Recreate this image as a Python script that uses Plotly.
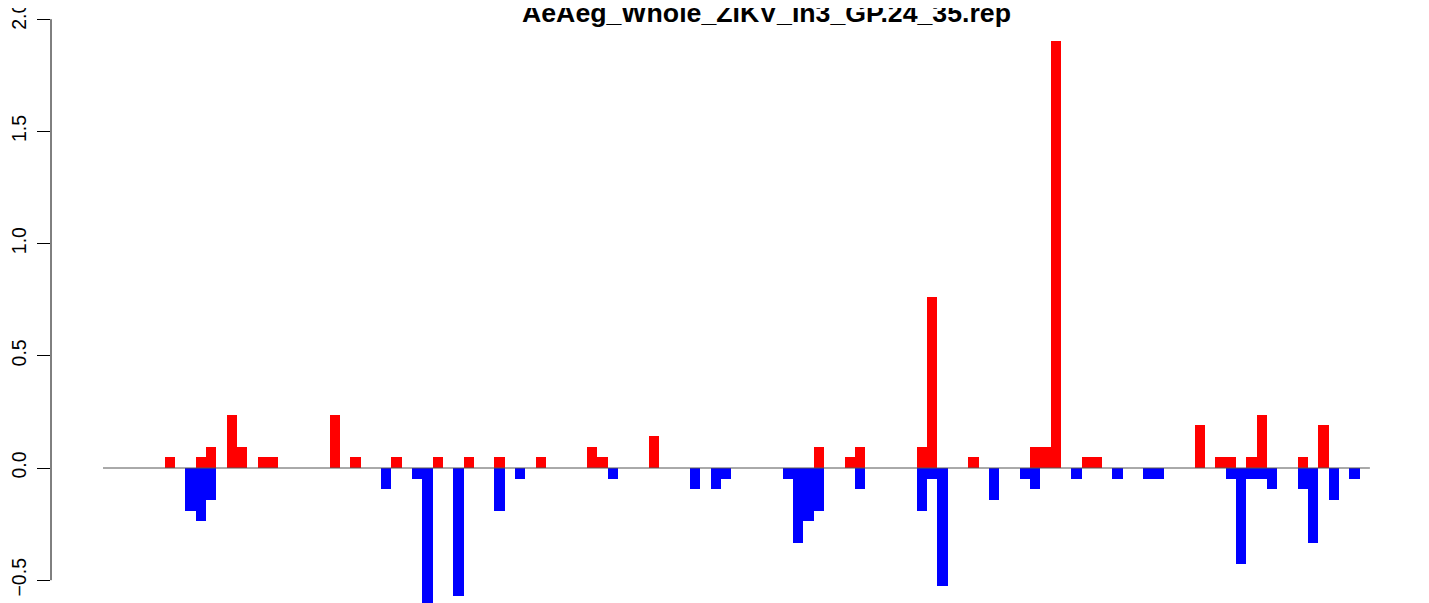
import plotly.graph_objects as go

# bar positions (0-based slot) and heights
red_idx = [6, 9, 10, 12, 13, 15, 16, 22, 24, 28, 32, 35, 38, 42, 47, 48, 53,
           69, 72, 73, 79, 80, 84, 90, 91, 92, 95, 96, 106, 108, 109, 111, 112,
           116, 118]
red_vals = [0.048, 0.048, 0.095, 0.238, 0.095, 0.048, 0.048, 0.238, 0.048,
            0.048, 0.048, 0.048, 0.048, 0.048, 0.095, 0.048, 0.143,
            0.095, 0.048, 0.095, 0.095, 0.762, 0.048, 0.095, 0.095, 1.905,
            0.048, 0.048, 0.190, 0.048, 0.048, 0.048, 0.238, 0.048, 0.190]

blue_idx = [8, 9, 10, 27, 30, 31, 34, 38, 40, 49, 57, 59, 60, 66, 67, 68, 69,
            73, 79, 80, 81, 86, 89, 90, 94, 98, 101, 102, 109, 110, 111, 112,
            113, 116, 117, 119, 121]
blue_vals = [-0.190, -0.238, -0.143, -0.095, -0.048, -0.619, -0.571, -0.190,
             -0.048, -0.048, -0.095, -0.095, -0.048, -0.048, -0.333, -0.238,
             -0.190, -0.095, -0.190, -0.048, -0.524, -0.143, -0.048, -0.095,
             -0.048, -0.048, -0.048, -0.048, -0.048, -0.429, -0.048, -0.048,
             -0.095, -0.095, -0.333, -0.143, -0.048]

n_slots = 123
y_ticks = [-0.5, 0.0, 0.5, 1.0, 1.5, 2.0]
title = "AeAeg_Whole_ZIKV_In3_GP.24_35.rep"

# the page body has an 8px margin, so lay things out 8px up/left
W, H = 1429, 603
L, R = 43, 5
scale = 10.3            # px per bar slot
px_per_unit = 224.4     # px per y unit
zero_px = 468 - 8       # y=0 in figure pixels

fig = go.Figure()
fig.add_bar(x=[i + 0.5 for i in red_idx], y=red_vals, width=1,
            marker=dict(color="#FF0000", line=dict(width=0)))
fig.add_bar(x=[i + 0.5 for i in blue_idx], y=blue_vals, width=1,
            marker=dict(color="#0000FF", line=dict(width=0)))

# zero line across the bar slots
fig.add_shape(type="line", x0=0, x1=n_slots, y0=0, y1=0,
              xref="x", yref="y", line=dict(color="#555555", width=1))
# R style y axis line, only over the tick range
fig.add_shape(type="line", x0=0, x1=0, xref="paper", y0=y_ticks[0], y1=y_ticks[-1],
              yref="y", line=dict(color="black", width=1))

fig.add_annotation(text="<b>" + title + "</b>", xref="paper", yref="paper",
                   x=(766 - 8 - L) / (W - L - R), y=1, yanchor="middle", yshift=-5,
                   showarrow=False,
                   font=dict(family="Liberation Sans", size=26.7, color="black"))

x0 = -(103 - 51) / scale
x1 = x0 + (W - L - R) / scale
y1 = zero_px / px_per_unit
y0 = -(H - zero_px) / px_per_unit

fig.update_layout(
    width=W, height=H,
    margin=dict(l=L, r=R, t=0, b=0),
    paper_bgcolor="white", plot_bgcolor="white",
    barmode="overlay", bargap=0, showlegend=False,
    font=dict(family="Liberation Sans", color="black"),
    xaxis=dict(range=[x0, x1], visible=False, showgrid=False, zeroline=False),
    yaxis=dict(range=[y0, y1], tickvals=y_ticks, automargin=False,
               ticktext=["\u22120.5", "0.0", "0.5", "1.0", "1.5", "2.0"],
               ticks="outside", ticklen=13, tickcolor="black", tickwidth=1,
               tickangle=-90, tickfont=dict(size=19.5), ticklabelstandoff=3,
               ticklabeloverflow="allow",
               showline=False, showgrid=False, zeroline=False),
)

fig.write_html("out.html")
